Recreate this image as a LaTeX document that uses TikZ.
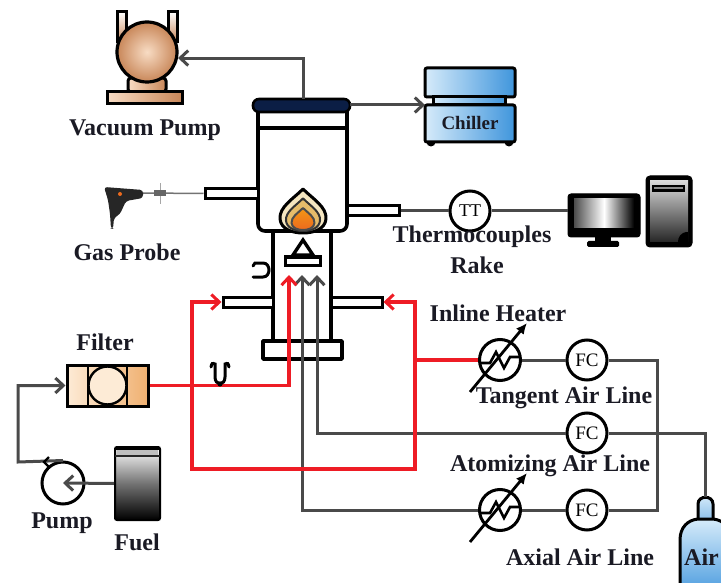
\documentclass[tikz,border=0pt]{standalone}
\usepackage{fontspec}
\setmainfont{Liberation Serif}
\usetikzlibrary{arrows.meta,calc}
\definecolor{pipegray}{HTML}{4A4A4A}
\definecolor{linered}{HTML}{EE1C25}
\definecolor{lidnavy}{HTML}{0B1E45}
\definecolor{ink}{HTML}{1A1A24}
\definecolor{peachlight}{HTML}{F8DCC4}
\definecolor{peachdark}{HTML}{C88658}
\definecolor{chilllight}{HTML}{D6EBFA}
\definecolor{chilldark}{HTML}{3F95DC}
\definecolor{filterlight}{HTML}{FDEBD6}
\definecolor{filterdark}{HTML}{F0B070}
\definecolor{flamecream}{HTML}{F5E6C0}
\definecolor{flamegold}{HTML}{E6BC6A}
\definecolor{flameorange}{HTML}{EC6A1E}
\begin{document}
\begin{tikzpicture}[x=1pt,y=-1pt,
  lbl/.style={font=\fontsize{24}{26}\selectfont\bfseries, text=ink, inner sep=0pt},
  gauge/.style={circle, draw, line width=3pt, minimum size=40pt, inner sep=0pt, fill=white,
    font=\fontsize{19}{20}\selectfont},
  heater/.style={circle, draw, line width=3pt, minimum size=41pt, inner sep=0pt, fill=white},
  port/.style={draw, line width=3pt, fill=white, inner sep=0pt, minimum height=10pt},
  outline/.style={draw, line width=3.6pt, line join=round},
  gpipe/.style={draw=pipegray, line width=3pt},
  rpipe/.style={draw=linered, line width=3.4pt},
  tip/.style={-{Straight Barb[length=8pt,width=15pt,line width=3pt]}},
  heatarrow/.style={draw, line width=2.8pt, -{Latex[length=11pt,width=10pt]}},
  flameshape/.style={line width=2pt, line join=round}
]
\useasboundingbox (0,0) rectangle (721,583);

% ---------------- vacuum pump ----------------
\draw[line width=3pt, top color=white, bottom color=peachdark] (117,12) rectangle (126,42);
\draw[line width=3pt, top color=white, bottom color=peachdark] (168,12) rectangle (177,42);
\draw[line width=3pt, left color=peachlight, right color=peachdark, rounded corners=3pt] (128,78) rectangle (166,92);
\draw[line width=3pt, left color=peachlight, right color=peachdark] (107,92) rectangle (182,104);
\node[circle, draw, line width=3.2pt, minimum size=60pt, inner sep=0pt,
  inner color=peachlight, outer color=peachdark] (vpump) at (147,52) {};
\node[lbl] (vpumplbl) at (145,130) {Vacuum Pump};

% ---------------- chiller ----------------
\draw[line width=3pt, left color=chilllight, right color=chilldark, rounded corners=2pt] (425,68) rectangle (515,97);
\draw[line width=3pt, left color=chilllight, right color=chilldark] (433,97) rectangle (505,105);
\fill (431,142) circle (4.5pt) (509,142) circle (4.5pt);
\node[draw, line width=3pt, left color=chilllight, right color=chilldark, rounded corners=2pt,
  minimum width=90pt, minimum height=37pt, inner sep=0pt,
  font=\fontsize{19}{20}\selectfont\bfseries, text=ink] (chill) at (470,123.5) {Chiller};

% ---------------- combustion chamber ----------------
\draw[outline, fill=white, rounded corners=7pt] (258,104) -- (258,231) -- (347,231) -- (347,104);
\draw[outline] (258,128) -- (347,128);
\draw[line width=2.6pt, fill=lidnavy, rounded corners=6pt] (253,99) rectangle (350,112);
\coordinate (lidtop) at (303,99);
\coordinate (lidright) at (350,105);
\draw[outline, fill=white] (273,231) rectangle (331,341);
\draw[outline, fill=white] (263,341) rectangle (342,359);

% side ports
\node[port, minimum width=53pt] (probeport) at (231.5,193.5) {};
\node[port, minimum width=52pt] (tport) at (373,211) {};
\node[port, minimum width=50pt] (lport) at (248,302) {};
\node[port, minimum width=51pt] (rport) at (356.5,302) {};

% flame
\begin{scope}[shift={(303,233)}]
  \draw[flameshape, line width=3pt, fill=flamecream]
    (0,-44) .. controls (-10,-34) and (-24,-26) .. (-23,-14)
    .. controls (-22,-4) and (-11,0) .. (0,0)
    .. controls (11,0) and (22,-4) .. (23,-14)
    .. controls (24,-26) and (10,-34) .. (0,-44) -- cycle;
\end{scope}
\begin{scope}[shift={(303,231)}, scale=0.74]
  \draw[flameshape, draw=black!80, fill=flamegold]
    (0,-44) .. controls (-10,-34) and (-24,-26) .. (-23,-14)
    .. controls (-22,-4) and (-11,0) .. (0,0)
    .. controls (11,0) and (22,-4) .. (23,-14)
    .. controls (24,-26) and (10,-34) .. (0,-44) -- cycle;
\end{scope}
\begin{scope}[shift={(303,230)}, scale=0.5]
  \draw[flameshape, draw=black!70, top color=flameorange!70!yellow, bottom color=flameorange]
    (0,-44) .. controls (-10,-34) and (-24,-26) .. (-23,-14)
    .. controls (-22,-4) and (-11,0) .. (0,0)
    .. controls (11,0) and (22,-4) .. (23,-14)
    .. controls (24,-26) and (10,-34) .. (0,-44) -- cycle;
\end{scope}

% nozzle and bluff body
\draw[line width=3.4pt, fill=white, line join=miter] (303,240) -- (293,255) -- (313,255) -- cycle;
\draw[line width=3pt, fill=white] (285,257) rectangle (320,265);

% igniter hook
\draw[line width=3pt, line cap=round]
  (253,266) -- (255,263) -- (263,263) .. controls (271,263) and (271,277) .. (263,277) -- (253,277);

% ---------------- gas probe ----------------
\draw[black!55, line width=1.5pt] (143,193) -- (probeport.west);
\draw[black!35, line width=1pt] (160,183) -- (160,204);
\fill[black!60] (154,190) rectangle (166,196);
\fill[black!85, rounded corners=3pt] (104,187) -- (143,190) -- (143,198) -- (126,201)
  -- (120,214) -- (114,218) -- (113,229) -- (111,229) -- (110,214) -- (108,200) -- cycle;
\fill[flameorange] (120,194) circle (2pt);
\node[lbl] (probelbl) at (127,252) {Gas Probe};

% ---------------- thermocouple rake and computer ----------------
\node[gauge, font=\fontsize{18}{20}\selectfont] (tt) at (470,211) {TT};
\node[lbl] (rakelbl1) at (472,237) {Thermocouples};
\node[lbl] (rakelbl2) at (477,265) {Rake};

\node[draw, fill=black, line width=1pt, rounded corners=3pt, minimum width=72pt, minimum height=43pt, inner sep=0pt] (monitor) at (604,215.5) {};
\shade[left color=black!70, right color=black, middle color=white] (574,199) rectangle (634,228);
\fill (595,237) rectangle (611,242);
\fill[rounded corners=1.5pt] (587,241) rectangle (619,247);
\node[draw, fill=black, line width=1pt, rounded corners=4pt, minimum width=46pt, minimum height=71pt, inner sep=0pt] (tower) at (669,211.5) {};
\shade[top color=black!15, bottom color=black!85] (650,181) rectangle (688,242);
\fill[black] (652,185) rectangle (685,192);
\fill[black!45] (654,187) rectangle (683,189);
\fill[black] (688,242) -- (688,232) .. controls (680,232) and (678,238) .. (678,242) -- cycle;

% ---------------- filter, pump, fuel ----------------
\node[draw, line width=3pt, left color=filterlight, right color=filterdark, minimum width=81pt, minimum height=41pt, inner sep=0pt] (filter) at (107.5,385.5) {};
\draw[line width=2.4pt] (88,365) -- (88,406) (127,365) -- (127,406);
\draw[line width=2.4pt, fill=filterlight] (107.5,385.5) circle (19pt);
\node[lbl] (filterlbl) at (105,342) {Filter};

\node[circle, draw, line width=3pt, minimum size=42pt, inner sep=0pt, fill=white] (pump) at (63,483) {};
\node[lbl] (pumplbl) at (62,523) {Pump};

\node[draw, line width=2pt, rounded corners=2pt, top color=white, bottom color=black, middle color=black!55,
  minimum width=45pt, minimum height=73pt, inner sep=0pt] (fuel) at (137.5,483.5) {};
\fill[black] (115,447) rectangle (160,450);
\fill[black!25] (117,450) rectangle (158,455);
\fill[black!85] (115,455) rectangle (160,457);
\node[lbl] (fuellbl) at (137,542) {Fuel};

% ---------------- air supply ----------------
\node[heater] (htan) at (500,360) {};
\node[heater] (hax) at (500,510) {};
\node[gauge] (fctan) at (587,360) {FC};
\node[gauge] (fcat) at (587,433) {FC};
\node[gauge] (fcax) at (587,510) {FC};
\foreach \h in {htan,hax}{
  \draw[line width=2.6pt, line join=miter] ($(\h)+(-20,3)$) -- ++(10,0) -- ++(6,-11) -- ++(8,16) -- ++(6,-11) -- ++(10,0);
  \draw[heatarrow] ($(\h)+(-30,32)$) -- ($(\h)+(27,-37)$);
}
\node[lbl] (heaterlbl) at (498,313) {Inline Heater};
\node[lbl] (tanlbl) at (564,398) {Tangent Air Line};
\node[lbl] (atomlbl) at (550,466) {Atomizing Air Line};
\node[lbl] (axlbl) at (580,557) {Axial Air Line};

% air cylinder
\draw[line width=3pt, top color=chilllight, bottom color=chilldark!60]
  (698,520) -- (698,504) .. controls (698,495) and (713,495) .. (713,504) -- (713,520);
\draw[line width=3pt, top color=chilllight, bottom color=chilldark]
  (680,600) -- (680,540) .. controls (680,527) and (688,520) .. (698,519) -- (713,519)
  .. controls (723,520) and (731,527) .. (731,540) -- (731,600);
\coordinate (airtop) at (705.5,497);
\node[lbl, anchor=west] (airlbl) at (684,557) {Air};

% ---------------- connectors ----------------
\coordinate (fuelin) at (289,275);
\coordinate (axin) at (302,275);
\coordinate (atin) at (317,275);
\coordinate (vpin) at (vpump.-11);
\coordinate (chin) at (425,105);
\coordinate (tanjoin) at (415,360);

% exhaust lines
\draw[gpipe, tip] (lidtop) |- (vpin);
\draw[gpipe, tip] (lidright) -- (chin);

% thermocouple signal
\draw[gpipe] (tport.east) -- (tt.west);
\draw[gpipe] (tt.east) -- (tt.east -| monitor.west);

% fuel feed
\draw[gpipe, tip] (fuel.west) -- (pump.center);
\draw[gpipe, tip] (pump.north) -- (18,462) -- (18,385.5) -- (filter.west);
\draw[line width=2.4pt] (49,457) -- (44,462) -- (49,467);

% air lines
\draw[gpipe] (htan.east) -- (fctan.west);
\draw[gpipe] (fctan.east) -- (657,360) -- (657,510) -- (fcax.east);
\draw[gpipe] (fcax.west) -- (hax.east);
\draw[gpipe, tip] (hax.west) -| (axin);
\draw[gpipe, tip] (fcat.west) -- (317,433) -- (atin);
\draw[gpipe] (fcat.east) -- (705.5,433) -- (airtop);

% heated tangential air and fuel
\draw[rpipe] (htan.west) -- (tanjoin);
\draw[rpipe, tip] (tanjoin) |- (rport.east);
\draw[rpipe, tip] (tanjoin) -- (415,469) -- (192,469) -- (192,302) -- (lport.west);
\draw[rpipe, tip] (filter.east) -- (289,385.5) -- (fuelin);

% check valve on fuel line
\draw[line width=3pt, line cap=round]
  (211,367) .. controls (212,363) .. (215,364) -- (215,377)
  .. controls (215,386) and (225,386) .. (225,377) -- (225,364)
  .. controls (228,363) .. (229,367);
\fill (220,384) circle (2.6pt);

\end{tikzpicture}
\end{document}
